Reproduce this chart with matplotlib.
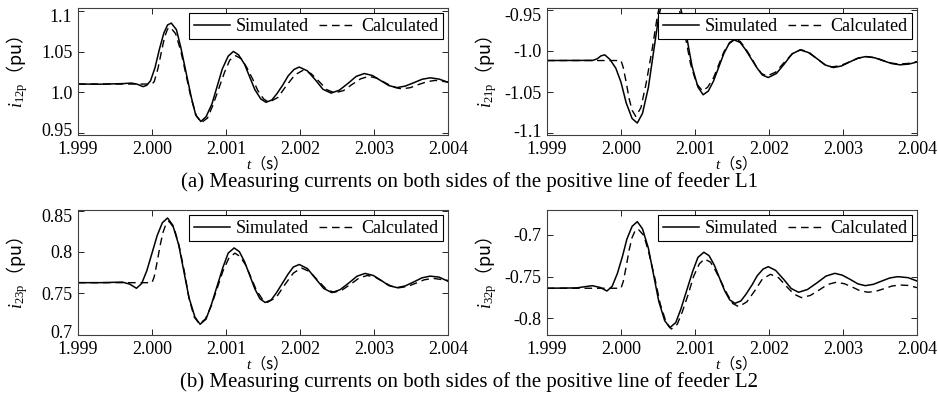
import matplotlib

matplotlib.use("Agg")

import matplotlib.pyplot as plt
from matplotlib.transforms import ScaledTranslation

plt.rcParams["font.family"] = ["Liberation Serif", "Noto Sans CJK SC"]
plt.rcParams["mathtext.fontset"] = "custom"
plt.rcParams["mathtext.rm"] = "Liberation Serif"
plt.rcParams["mathtext.it"] = "Liberation Serif:italic"
plt.rcParams["axes.unicode_minus"] = False

# shared time axis ticks
X_TICKS = [1.999, 2.000, 2.001, 2.002, 2.003, 2.004]
X_TICK_LABELS = ["1.999", "2.000", "2.001", "2.002", "2.003", "2.004"]

# (a) left: i12p
T_12_SIM = [1.99900, 1.99930, 1.99960, 1.99972, 1.99980, 1.99988, 1.99993, 1.99998,
            2.00004, 2.00010, 2.00016, 2.00021, 2.00026, 2.00033, 2.00039, 2.00046,
            2.00053, 2.00059, 2.00066, 2.00073, 2.00081, 2.00088, 2.00095, 2.00103,
            2.00110, 2.00117, 2.00125, 2.00132, 2.00139, 2.00147, 2.00154, 2.00162,
            2.00169, 2.00177, 2.00184, 2.00192, 2.00199, 2.00210, 2.00221, 2.00231,
            2.00242, 2.00253, 2.00265, 2.00276, 2.00287, 2.00298, 2.00309, 2.00320,
            2.00331, 2.00342, 2.00354, 2.00365, 2.00376, 2.00388, 2.00400]
I_12_SIM = [1.0100, 1.0098, 1.0105, 1.0112, 1.0098, 1.0068, 1.0085, 1.0140,
            1.0300, 1.0530, 1.0730, 1.0830, 1.0854, 1.0772, 1.0550, 1.0245,
            0.9941, 0.9719, 0.9637, 0.9695, 0.9854, 1.0070, 1.0287, 1.0445,
            1.0503, 1.0461, 1.0346, 1.0188, 1.0031, 0.9916, 0.9874, 0.9903,
            0.9983, 1.0092, 1.0201, 1.0281, 1.0310, 1.0263, 1.0149, 1.0035,
            0.9988, 1.0023, 1.0109, 1.0195, 1.0230, 1.0205, 1.0143, 1.0081,
            1.0056, 1.0074, 1.0117, 1.0159, 1.0177, 1.0161, 1.0122]
T_12_CAL = [1.99900, 2.00000, 2.00003, 2.00008, 2.00013, 2.00017, 2.00021, 2.00025,
            2.00032, 2.00039, 2.00046, 2.00053, 2.00060, 2.00067, 2.00075, 2.00082,
            2.00090, 2.00098, 2.00105, 2.00113, 2.00121, 2.00128, 2.00136, 2.00143,
            2.00151, 2.00158, 2.00170, 2.00181, 2.00193, 2.00204, 2.00215, 2.00226,
            2.00236, 2.00247, 2.00259, 2.00270, 2.00282, 2.00293, 2.00304, 2.00315,
            2.00326, 2.00337, 2.00349, 2.00360, 2.00372, 2.00383, 2.00400]
I_12_CAL = [1.0100, 1.0100, 1.0130, 1.0290, 1.0510, 1.0680, 1.0780, 1.0800,
            1.0721, 1.0506, 1.0212, 0.9919, 0.9704, 0.9625, 0.9680, 0.9831,
            1.0038, 1.0244, 1.0395, 1.0450, 1.0411, 1.0306, 1.0162, 1.0019,
            0.9914, 0.9875, 0.9933, 1.0073, 1.0212, 1.0270, 1.0229, 1.0130,
            1.0031, 0.9990, 1.0020, 1.0093, 1.0165, 1.0195, 1.0172, 1.0117,
            1.0063, 1.0040, 1.0055, 1.0093, 1.0130, 1.0145, 1.0125]

# (a) right: i21p
T_21_SIM = [1.99900, 1.99962, 1.99968, 1.99973, 1.99978, 1.99985, 1.99993, 2.00000,
            2.00007, 2.00015, 2.00022, 2.00029, 2.00037, 2.00044, 2.00051, 2.00059,
            2.00066, 2.00074, 2.00081, 2.00089, 2.00096, 2.00104, 2.00111, 2.00118,
            2.00125, 2.00132, 2.00139, 2.00146, 2.00153, 2.00161, 2.00168, 2.00176,
            2.00184, 2.00191, 2.00199, 2.00210, 2.00221, 2.00231, 2.00242, 2.00253,
            2.00265, 2.00276, 2.00287, 2.00298, 2.00309, 2.00320, 2.00331, 2.00343,
            2.00354, 2.00366, 2.00377, 2.00389, 2.00400]
I_21_SIM = [-1.0117, -1.0115, -1.0095, -1.0060, -1.0048, -1.0103, -1.0210, -1.0380,
            -1.0630, -1.0820, -1.0875, -1.0759, -1.0444, -1.0012, -0.9581, -0.9266,
            -0.9150, -0.9243, -0.9496, -0.9841, -1.0187, -1.0439, -1.0532, -1.0487,
            -1.0366, -1.0199, -1.0033, -0.9912, -0.9867, -0.9898, -0.9981, -1.0095,
            -1.0209, -1.0292, -1.0323, -1.0274, -1.0155, -1.0037, -0.9988, -1.0019,
            -1.0095, -1.0171, -1.0202, -1.0183, -1.0135, -1.0088, -1.0069, -1.0084,
            -1.0119, -1.0154, -1.0169, -1.0160, -1.0135]
T_21_CAL = [1.99900, 2.00000, 2.00003, 2.00007, 2.00011, 2.00015, 2.00020, 2.00027,
            2.00034, 2.00042, 2.00049, 2.00056, 2.00063, 2.00071, 2.00079, 2.00087,
            2.00094, 2.00102, 2.00110, 2.00117, 2.00125, 2.00132, 2.00139, 2.00147,
            2.00154, 2.00161, 2.00168, 2.00176, 2.00183, 2.00190, 2.00197, 2.00209,
            2.00220, 2.00232, 2.00243, 2.00254, 2.00264, 2.00275, 2.00285, 2.00297,
            2.00309, 2.00321, 2.00333, 2.00344, 2.00354, 2.00365, 2.00375, 2.00388,
            2.00400]
I_21_CAL = [-1.0117, -1.0117, -1.0200, -1.0380, -1.0580, -1.0720, -1.0795, -1.0687,
            -1.0391, -0.9987, -0.9584, -0.9288, -0.9180, -0.9267, -0.9506, -0.9832,
            -1.0158, -1.0397, -1.0484, -1.0442, -1.0327, -1.0169, -1.0012, -0.9897,
            -0.9855, -0.9885, -0.9968, -1.0080, -1.0193, -1.0275, -1.0305, -1.0258,
            -1.0145, -1.0032, -0.9985, -1.0016, -1.0090, -1.0164, -1.0195, -1.0177,
            -1.0132, -1.0088, -1.0070, -1.0083, -1.0115, -1.0147, -1.0160, -1.0152,
            -1.0130]

# (b) left: i23p
T_23_SIM = [1.99900, 1.99930, 1.99960, 1.99970, 1.99979, 1.99986, 1.99993, 2.00000,
            2.00007, 2.00014, 2.00021, 2.00028, 2.00036, 2.00043, 2.00050, 2.00058,
            2.00065, 2.00073, 2.00080, 2.00088, 2.00096, 2.00103, 2.00111, 2.00118,
            2.00125, 2.00132, 2.00139, 2.00146, 2.00153, 2.00161, 2.00168, 2.00176,
            2.00184, 2.00191, 2.00199, 2.00210, 2.00221, 2.00232, 2.00243, 2.00254,
            2.00266, 2.00277, 2.00288, 2.00299, 2.00310, 2.00320, 2.00331, 2.00342,
            2.00354, 2.00365, 2.00376, 2.00388, 2.00400]
I_23_SIM = [0.7628, 0.7628, 0.7635, 0.7610, 0.7560, 0.7617, 0.7773, 0.7985,
            0.8198, 0.8353, 0.8410, 0.8324, 0.8089, 0.7767, 0.7446, 0.7211,
            0.7125, 0.7187, 0.7356, 0.7587, 0.7817, 0.7986, 0.8048, 0.8004,
            0.7883, 0.7718, 0.7553, 0.7432, 0.7388, 0.7419, 0.7503, 0.7618,
            0.7733, 0.7817, 0.7848, 0.7798, 0.7678, 0.7558, 0.7508, 0.7542,
            0.7624, 0.7706, 0.7740, 0.7715, 0.7654, 0.7593, 0.7568, 0.7588,
            0.7638, 0.7687, 0.7707, 0.7695, 0.7645]
T_23_CAL = [1.99900, 2.00000, 2.00003, 2.00007, 2.00011, 2.00015, 2.00019, 2.00023,
            2.00030, 2.00037, 2.00044, 2.00050, 2.00057, 2.00064, 2.00072, 2.00080,
            2.00088, 2.00096, 2.00104, 2.00112, 2.00119, 2.00127, 2.00134, 2.00141,
            2.00149, 2.00156, 2.00168, 2.00179, 2.00191, 2.00202, 2.00213, 2.00224,
            2.00235, 2.00246, 2.00257, 2.00269, 2.00280, 2.00291, 2.00302, 2.00312,
            2.00323, 2.00333, 2.00345, 2.00357, 2.00368, 2.00380, 2.00400]
I_23_CAL = [0.7628, 0.7628, 0.7700, 0.7880, 0.8080, 0.8240, 0.8340, 0.8370,
            0.8287, 0.8060, 0.7750, 0.7440, 0.7213, 0.7130, 0.7187, 0.7344,
            0.7558, 0.7771, 0.7928, 0.7985, 0.7945, 0.7836, 0.7687, 0.7539,
            0.7430, 0.7390, 0.7451, 0.7598, 0.7744, 0.7805, 0.7762, 0.7657,
            0.7553, 0.7510, 0.7540, 0.7613, 0.7685, 0.7715, 0.7693, 0.7640,
            0.7587, 0.7565, 0.7582, 0.7623, 0.7663, 0.7680, 0.7655]

# (b) right: i32p
T_32_SIM = [1.99900, 1.99940, 1.99961, 1.99972, 1.99981, 1.99988, 1.99995, 2.00002,
            2.00008, 2.00015, 2.00022, 2.00029, 2.00037, 2.00044, 2.00051, 2.00059,
            2.00066, 2.00074, 2.00081, 2.00089, 2.00097, 2.00104, 2.00112, 2.00119,
            2.00126, 2.00133, 2.00140, 2.00147, 2.00154, 2.00162, 2.00169, 2.00177,
            2.00184, 2.00192, 2.00199, 2.00209, 2.00220, 2.00230, 2.00240, 2.00252,
            2.00265, 2.00277, 2.00289, 2.00299, 2.00310, 2.00320, 2.00330, 2.00341,
            2.00352, 2.00363, 2.00374, 2.00388, 2.00400]
I_32_SIM = [-0.7639, -0.7635, -0.7608, -0.7630, -0.7672, -0.7616, -0.7464, -0.7256,
            -0.7048, -0.6896, -0.6840, -0.6925, -0.7158, -0.7476, -0.7794, -0.8027,
            -0.8112, -0.8051, -0.7886, -0.7659, -0.7433, -0.7268, -0.7207, -0.7248,
            -0.7360, -0.7514, -0.7667, -0.7779, -0.7820, -0.7791, -0.7710, -0.7600,
            -0.7490, -0.7409, -0.7380, -0.7425, -0.7534, -0.7642, -0.7687, -0.7654,
            -0.7573, -0.7493, -0.7460, -0.7482, -0.7534, -0.7586, -0.7608, -0.7592,
            -0.7554, -0.7516, -0.7500, -0.7512, -0.7552]
T_32_CAL = [1.99900, 2.00000, 2.00003, 2.00007, 2.00011, 2.00015, 2.00019, 2.00023,
            2.00031, 2.00038, 2.00046, 2.00053, 2.00061, 2.00068, 2.00076, 2.00083,
            2.00091, 2.00098, 2.00106, 2.00113, 2.00121, 2.00128, 2.00136, 2.00144,
            2.00151, 2.00159, 2.00170, 2.00181, 2.00191, 2.00202, 2.00213, 2.00223,
            2.00234, 2.00244, 2.00256, 2.00268, 2.00279, 2.00291, 2.00302, 2.00313,
            2.00323, 2.00334, 2.00345, 2.00356, 2.00366, 2.00377, 2.00389, 2.00400]
I_32_CAL = [-0.7639, -0.7639, -0.7560, -0.7380, -0.7180, -0.7030, -0.6950, -0.6928,
            -0.7008, -0.7228, -0.7528, -0.7828, -0.8048, -0.8128, -0.8072, -0.7918,
            -0.7708, -0.7498, -0.7344, -0.7288, -0.7326, -0.7431, -0.7574, -0.7717,
            -0.7822, -0.7860, -0.7803, -0.7666, -0.7529, -0.7472, -0.7513, -0.7612,
            -0.7711, -0.7752, -0.7725, -0.7659, -0.7594, -0.7567, -0.7585, -0.7627,
            -0.7669, -0.7687, -0.7674, -0.7643, -0.7613, -0.7600, -0.7606, -0.7632]

Y_TICKS_12 = [0.95, 1.0, 1.05, 1.1]
Y_LABELS_12 = ["0.95", "1.0", "1.05", "1.1"]
Y_TICKS_21 = [-1.1, -1.05, -1.0, -0.95]
Y_LABELS_21 = ["-1.1", "-1.05", "-1.0", "-0.95"]
Y_TICKS_23 = [0.7, 0.75, 0.8, 0.85]
Y_LABELS_23 = ["0.7", "0.75", "0.8", "0.85"]
Y_TICKS_32 = [-0.8, -0.75, -0.7]
Y_LABELS_32 = ["-0.8", "-0.75", "-0.7"]

SERIES_LABELS = ["Simulated", "Calculated"]
CAPTIONS = [
    "(a) Measuring currents on both sides of the positive line of feeder L1",
    "(b) Measuring currents on both sides of the positive line of feeder L2",
]

FONT_SIZE = 13


def draw_panel(fig, rect, sim, cal, ylim, yticks, ylabels, ylabel):
    ax = fig.add_axes(rect)
    ax.plot(sim[0], sim[1], color="black", lw=1.1, label=SERIES_LABELS[0])
    ax.plot(cal[0], cal[1], color="black", lw=1.0, linestyle=(0, (5.5, 3.5)),
            label=SERIES_LABELS[1])
    ax.set_xlim(X_TICKS[0], X_TICKS[-1])
    ax.set_ylim(*ylim)
    ax.set_xticks(X_TICKS, labels=X_TICK_LABELS)
    ax.set_yticks(yticks, labels=ylabels)
    ax.tick_params(direction="in", top=True, right=True, length=4, width=0.6,
                   labelsize=FONT_SIZE, pad=4)
    for spine in ax.spines.values():
        spine.set_linewidth(0.8)
        spine.set_color("0.25")

    # labels sitting on the axes edge are pulled a few pixels inward
    span = ylim[1] - ylim[0]
    for value, label in zip(yticks, ax.get_yticklabels()):
        if value - ylim[0] < 0.06 * span:
            label.set_transform(label.get_transform()
                                + ScaledTranslation(0, 0.03, fig.dpi_scale_trans))
        elif ylim[1] - value < 0.06 * span:
            label.set_transform(label.get_transform()
                                + ScaledTranslation(0, -0.045, fig.dpi_scale_trans))

    ax.set_xlabel(r"$t$（s）", family="Noto Sans CJK SC", fontsize=11, labelpad=-3)
    ax.set_ylabel(ylabel, family="Noto Sans CJK SC", fontsize=13)
    ax.yaxis.set_label_coords(-0.13, 0.5)

    legend = ax.legend(loc="upper right", ncol=2, fontsize=FONT_SIZE, frameon=True,
                       fancybox=False, framealpha=1, edgecolor="black",
                       borderaxespad=0.3, borderpad=0.25, handlelength=2.0,
                       handletextpad=0.3, columnspacing=0.6)
    legend.get_frame().set_linewidth(0.8)
    return ax


def main():
    fig = plt.figure(figsize=(9.38, 3.97), dpi=100)

    left_l, left_r = 78 / 938, 547 / 938
    width = 370 / 938
    top_b, top_h = 1 - 135 / 397, 127 / 397
    bot_b, bot_h = 1 - 335 / 397, 125 / 397

    draw_panel(fig, [left_l, top_b, width, top_h], (T_12_SIM, I_12_SIM), (T_12_CAL, I_12_CAL),
               (0.947, 1.104), Y_TICKS_12, Y_LABELS_12, r"$i_{\mathrm{12p}}$（pu）")
    draw_panel(fig, [left_r, top_b, width, top_h], (T_21_SIM, I_21_SIM), (T_21_CAL, I_21_CAL),
               (-1.102, -0.948), Y_TICKS_21, Y_LABELS_21, r"$i_{\mathrm{21p}}$（pu）")
    draw_panel(fig, [left_l, bot_b, width, bot_h], (T_23_SIM, I_23_SIM), (T_23_CAL, I_23_CAL),
               (0.6995, 0.8507), Y_TICKS_23, Y_LABELS_23, r"$i_{\mathrm{23p}}$（pu）")
    draw_panel(fig, [left_r, bot_b, width, bot_h], (T_32_SIM, I_32_SIM), (T_32_CAL, I_32_CAL),
               (-0.82, -0.67), Y_TICKS_32, Y_LABELS_32, r"$i_{\mathrm{32p}}$（pu）")

    fig.text(0.5, 1 - 182 / 397, CAPTIONS[0], ha="center", va="center", fontsize=15)
    fig.text(0.5, 1 - 382 / 397, CAPTIONS[1], ha="center", va="center", fontsize=15)

    fig.savefig("out.png", dpi=100, facecolor="white")
    plt.close(fig)


if __name__ == "__main__":
    main()
